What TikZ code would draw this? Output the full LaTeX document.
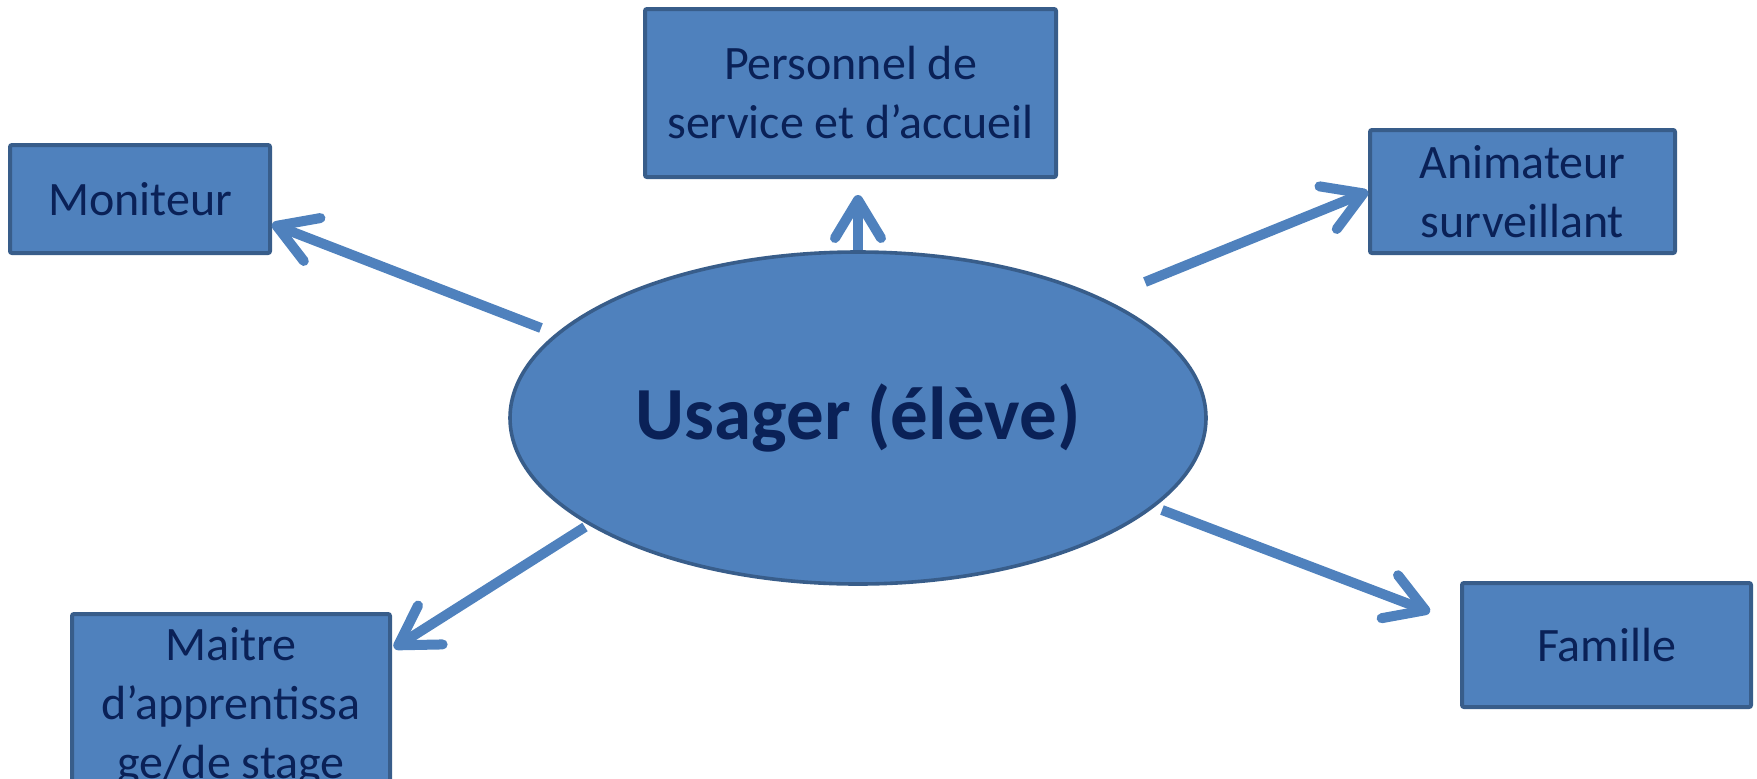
\documentclass[tikz,border=0pt]{standalone}
\usepackage{fontspec}
\setmainfont{Carlito}
\usetikzlibrary{arrows.meta,shapes.geometric}
\definecolor{boxfill}{HTML}{4F81BD}
\definecolor{boxline}{HTML}{385D8A}
\definecolor{txt}{HTML}{0A2157}
\begin{document}
\begin{tikzpicture}[x=0.5pt,y=-0.5pt,
  box/.style={draw=boxline,fill=boxfill,line width=2pt,rounded corners=1pt,
    text=txt,font=\fontsize{24}{29.5}\selectfont,align=center,inner sep=0pt},
  conn/.style={draw=boxfill,line width=5pt,
    -{Straight Barb[length=19pt,width=23pt,round]}}]
\useasboundingbox (0,0) rectangle (1757,778);
% central ellipse
\node[ellipse,draw=boxline,fill=boxfill,line width=1.8pt,minimum width=348pt,minimum height=166pt,
  text=txt,font=\fontsize{37.5}{45}\selectfont\bfseries] (u) at (858,418) {Usager (élève)};
% boxes
\node[box,minimum width=205.5pt,minimum height=84pt] (per) at (850.5,93) {Personnel de\\service et d’accueil};
\node[box,minimum width=130pt,minimum height=54pt] (mon) at (140,199) {Moniteur};
\node[box,minimum width=152.5pt,minimum height=61.5pt] (ani) at (1522.5,191.5) {Animateur\\surveillant};
\node[box,minimum width=159pt,minimum height=93pt] (mai) at (231,707) {Maitre\\d’apprentissa\\ge/de stage};
\node[box,minimum width=144.5pt,minimum height=62pt] (fam) at (1606.5,645) {Famille};
% start points of connectors
\coordinate (sm) at (541,328);
\coordinate (sa) at (1145,282);
\coordinate (sma) at (585,527);
\coordinate (sf) at (1162,510);
% connectors
\draw[conn] (sm) -- ([yshift=-12.5pt]mon.east);
\draw[conn] (u.north) -- ([xshift=3.75pt,yshift=-8pt]per.south);
\draw[conn] (sa) -- (ani.west);
\draw[conn] (sma) -- ([xshift=1pt,yshift=-18pt]mai.north east);
\draw[conn] (sf) -- ([xshift=-15pt,yshift=-15.5pt]fam.north west);
\end{tikzpicture}
\end{document}
